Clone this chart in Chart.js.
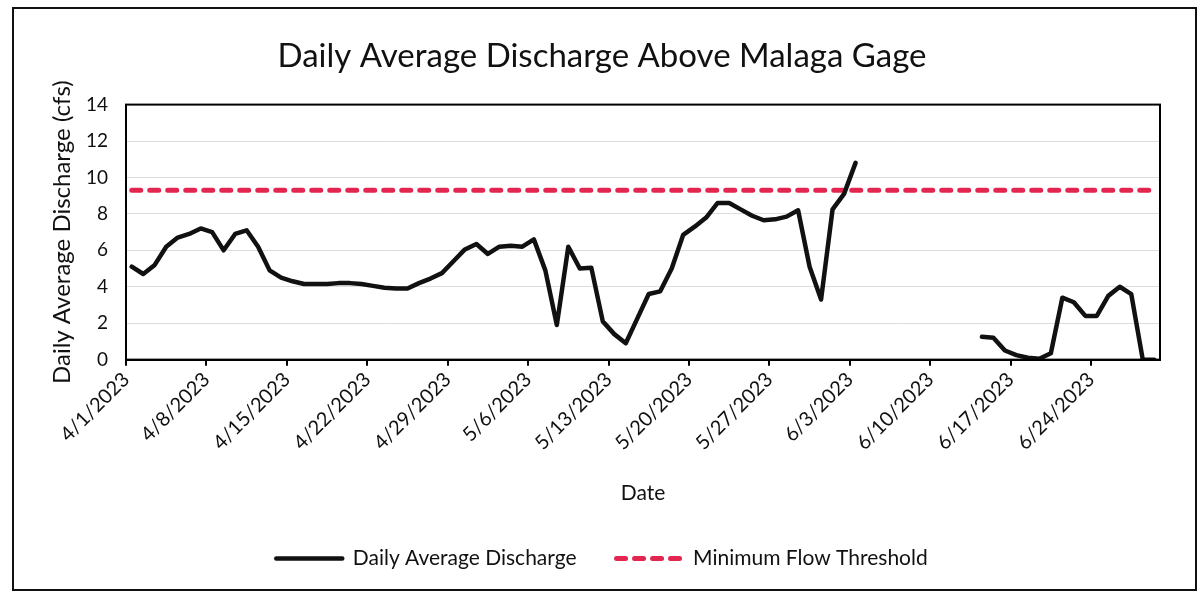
<!DOCTYPE html>
<html>
<head>
<meta charset="utf-8">
<script src="https://cdn.jsdelivr.net/npm/chart.js@4.4.1/dist/chart.umd.min.js"></script>
<style>
  body { margin: 0; background: #fff; }
  #wrap { position: absolute; left: 0; top: 0; width: 1199px; height: 602px; }
  #frame { position: absolute; left: 12px; top: 7px; width: 1181px; height: 580px; border: 2px solid #111; }
</style>
</head>
<body>
<div id="frame"></div>
<div id="wrap"><canvas id="discharge"></canvas></div>
<script>
// dates on the x axis (one point per day)
const dates = [
  '4/1/2023','4/2/2023','4/3/2023','4/4/2023','4/5/2023','4/6/2023','4/7/2023','4/8/2023','4/9/2023','4/10/2023',
  '4/11/2023','4/12/2023','4/13/2023','4/14/2023','4/15/2023','4/16/2023','4/17/2023','4/18/2023','4/19/2023','4/20/2023',
  '4/21/2023','4/22/2023','4/23/2023','4/24/2023','4/25/2023','4/26/2023','4/27/2023','4/28/2023','4/29/2023','4/30/2023',
  '5/1/2023','5/2/2023','5/3/2023','5/4/2023','5/5/2023','5/6/2023','5/7/2023','5/8/2023','5/9/2023','5/10/2023',
  '5/11/2023','5/12/2023','5/13/2023','5/14/2023','5/15/2023','5/16/2023','5/17/2023','5/18/2023','5/19/2023','5/20/2023',
  '5/21/2023','5/22/2023','5/23/2023','5/24/2023','5/25/2023','5/26/2023','5/27/2023','5/28/2023','5/29/2023','5/30/2023',
  '5/31/2023','6/1/2023','6/2/2023','6/3/2023','6/4/2023','6/5/2023','6/6/2023','6/7/2023','6/8/2023','6/9/2023',
  '6/10/2023','6/11/2023','6/12/2023','6/13/2023','6/14/2023','6/15/2023','6/16/2023','6/17/2023','6/18/2023','6/19/2023',
  '6/20/2023','6/21/2023','6/22/2023','6/23/2023','6/24/2023','6/25/2023','6/26/2023','6/27/2023','6/28/2023','6/29/2023'
];

// daily average discharge (cfs), null = no record
const discharge = [
  5.1, 4.7, 5.2, 6.2, 6.7, 6.9, 7.2, 7.0, 6.0, 6.9,
  7.1, 6.2, 4.9, 4.5, 4.3, 4.15, 4.15, 4.15, 4.2, 4.2,
  4.15, 4.05, 3.95, 3.9, 3.9, 4.2, 4.45, 4.75, 5.4, 6.05,
  6.35, 5.8, 6.2, 6.25, 6.2, 6.6, 4.9, 1.9, 6.2, 5.0,
  5.05, 2.1, 1.4, 0.9, 2.25, 3.6, 3.75, 5.0, 6.85, 7.3,
  7.8, 8.6, 8.6, 8.25, 7.9, 7.65, 7.7, 7.85, 8.2, 5.1,
  3.3, 8.25, 9.1, 10.8, null, null, null, null, null, null,
  null, null, null, null, 1.25, 1.2, 0.5, 0.25, 0.1, 0.05,
  0.35, 3.4, 3.15, 2.4, 2.4, 3.5, 4.0, 3.6, 0, 0
];

// minimum flow threshold (cfs)
const minFlow = 9.3;

const yMin = 0, yMax = 14, yStep = 2;
const tickEvery = 7;

const font = 'Lato, "Open Sans", sans-serif';

// black box round the plot area
const plotFrame = {
  id: 'plotFrame',
  afterDatasetsDraw(chart) {
    const { ctx, chartArea: a } = chart;
    ctx.save();
    ctx.strokeStyle = '#000';
    ctx.lineWidth = 2;
    ctx.strokeRect(a.left, a.top, a.right - a.left, a.bottom - a.top);
    ctx.restore();
  }
};

const ctx = document.getElementById('discharge').getContext('2d');

new Chart(ctx, {
  type: 'line',
  data: {
    labels: dates,
    datasets: [{
      label: 'Daily Average Discharge',
      data: discharge,
      borderColor: '#111',
      backgroundColor: '#111',
      borderWidth: 4.5,
      borderJoinStyle: 'round',
      borderCapStyle: 'round',
      pointRadius: 0,
      tension: 0,
      spanGaps: false
    }, {
      label: 'Minimum Flow Threshold',
      data: dates.map(() => minFlow),
      borderColor: '#e3264f',
      backgroundColor: '#e3264f',
      borderWidth: 5,
      borderDash: [9, 9],
      borderCapStyle: 'round',
      pointRadius: 0
    }]
  },
  options: {
    responsive: true,
    maintainAspectRatio: false,
    animation: false,
    layout: { padding: { left: 44, right: 39, top: 10, bottom: 23 } },
    scales: {
      x: {
        offset: true,
        // rotated labels may hang out to the left, as in the original
        afterFit: axis => { axis.paddingLeft = 0; axis.paddingRight = 0; },
        grid: {
          offset: true,
          drawOnChartArea: false,
          tickLength: 6,
          lineWidth: 2,
          color: c => (c.index % tickEvery === 0 ? '#000' : 'rgba(0,0,0,0)')
        },
        border: { color: '#000', width: 2 },
        ticks: {
          autoSkip: false,
          minRotation: 45,
          maxRotation: 45,
          labelOffset: -5.7,
          padding: 2,
          color: '#111',
          font: { family: font, size: 20 },
          callback: (v, i) => (i % tickEvery === 0 ? dates[i] : '')
        },
        title: {
          display: true,
          text: 'Date',
          color: '#111',
          font: { family: font, size: 21 },
          padding: { top: 24, bottom: 2 }
        }
      },
      y: {
        min: yMin,
        max: yMax,
        afterFit: axis => { axis.width = 82; },
        grid: { color: '#dcdcdc', lineWidth: 1, drawTicks: false },
        border: { color: '#000', width: 2 },
        ticks: {
          stepSize: yStep,
          padding: 18,
          color: '#111',
          font: { family: font, size: 19 }
        },
        title: {
          display: true,
          text: 'Daily Average Discharge (cfs)',
          color: '#111',
          font: { family: font, size: 24 },
          padding: { top: 4, bottom: 4 }
        }
      }
    },
    plugins: {
      title: {
        display: true,
        text: 'Daily Average Discharge Above Malaga Gage',
        color: '#111',
        font: { family: font, size: 33, weight: 'normal' },
        padding: { top: 27, bottom: 28 }
      },
      legend: {
        position: 'bottom',
        labels: {
          usePointStyle: true,
          pointStyle: 'line',
          pointStyleWidth: 66,
          padding: 40,
          color: '#111',
          font: { family: font, size: 21 },
          // keep the dash pattern of each line in its legend sample
          generateLabels: chart =>
            Chart.defaults.plugins.legend.labels.generateLabels(chart).map(item => ({
              ...item,
              lineDash: chart.data.datasets[item.datasetIndex].borderDash || [],
              lineCap: 'round'
            }))
        }
      },
      tooltip: { enabled: false }
    }
  },
  plugins: [plotFrame]
});
</script>
</body>
</html>
